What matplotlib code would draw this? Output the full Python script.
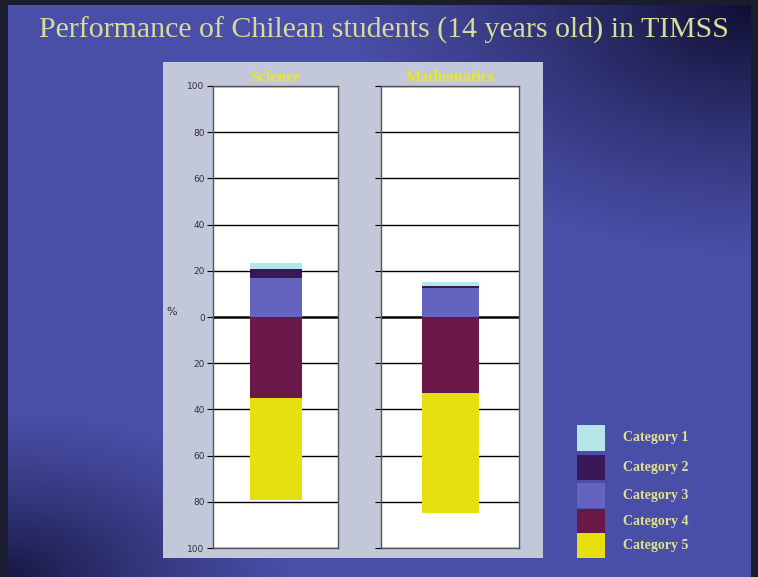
import matplotlib.pyplot as plt
import numpy as np

# Datos (porcentaje de alumnos por categoría)
materias = ['Science', 'Mathematics']
categorias = ['Category 1', 'Category 2', 'Category 3', 'Category 4', 'Category 5']
colores = ['#b4e6ea', '#3a1858', '#6464c0', '#6a1848', '#e6e010']

# por encima de cero: categoría 3, 2, 1 (apiladas)
cat3 = [17, 12.5]
cat2 = [4, 1]
cat1 = [2.5, 1.5]
# por debajo de cero: categoría 4, 5
cat4 = [35, 33]
cat5 = [44, 52]

ticks = [100, 80, 60, 40, 20, 0, -20, -40, -60, -80, -100]
etiquetas_ticks = [str(abs(t)) for t in ticks]

fig = plt.figure(figsize=(7.58, 5.77), dpi=100)
fig.patch.set_facecolor('#1c1c30')

# Fondo degradado
fondo = fig.add_axes([0.011, 0.0, 0.979, 0.991])
h, w = 200, 260
yy, xx = np.mgrid[0:1:h * 1j, 0:1:w * 1j]
base = np.array([0.29, 0.31, 0.66])
oscuro = np.array([0.06, 0.06, 0.20])
d_tr = np.sqrt(((1 - xx) / 0.55) ** 2 + (yy / 0.45) ** 2)
d_bl = np.sqrt((xx / 0.40) ** 2 + ((1 - yy) / 0.30) ** 2)
f = np.clip(1 - d_tr, 0, 1) ** 1.2 + 0.85 * np.clip(1 - d_bl, 0, 1) ** 1.3
f = np.clip(f, 0, 1)
img = base[None, None, :] * (1 - f[..., None]) + oscuro[None, None, :] * f[..., None]
fondo.imshow(img, aspect='auto', extent=[0, 1, 0, 1], origin='upper')
fondo.axis('off')

fig.text(0.507, 0.947, 'Performance of Chilean students (14 years old) in TIMSS',
         ha='center', va='center', fontsize=21.5, color='#d8dc94', family='Liberation Serif')

# Panel gris
panel = fig.add_axes([0.215, 0.033, 0.501, 0.86])
panel.set_facecolor('#c2c8da')
panel.set_xticks([])
panel.set_yticks([])
for s in panel.spines.values():
    s.set_visible(False)

posiciones = [[0.281, 0.050, 0.165, 0.801], [0.503, 0.050, 0.182, 0.801]]

for i, materia in enumerate(materias):
    ax = fig.add_axes(posiciones[i])
    ax.set_facecolor('white')
    ax.set_xlim(0, 1)
    ax.set_ylim(-100, 100)
    for t in ticks:
        ax.axhline(t, color='black', lw=1.8 if t == 0 else 1.0, zorder=1)
    x = 0.503
    ancho = 0.41
    ax.bar(x, cat3[i], ancho, bottom=0, color=colores[2], zorder=2)
    ax.bar(x, cat2[i], ancho, bottom=cat3[i], color=colores[1], zorder=2)
    ax.bar(x, cat1[i], ancho, bottom=cat3[i] + cat2[i], color=colores[0], zorder=2)
    ax.bar(x, -cat4[i], ancho, bottom=0, color=colores[3], zorder=2)
    ax.bar(x, -cat5[i], ancho, bottom=-cat4[i], color=colores[4], zorder=2)
    ax.set_xticks([])
    ax.set_yticks(ticks)
    if i == 0:
        ax.set_yticklabels(etiquetas_ticks, fontsize=6.5, color='#333333')
        ax.set_ylabel('%', rotation=0, fontsize=8, color='#333333', labelpad=4)
        ax.yaxis.set_label_coords(-0.33, 0.5)
    else:
        ax.set_yticklabels([])
    ax.tick_params(axis='y', length=4, width=0.8, pad=2)
    for s in ax.spines.values():
        s.set_color('#555555')
        s.set_linewidth(1.0)
    ax.set_title(materia, fontsize=11.5, color='#e8e828', fontweight='bold',
                 family='Liberation Serif', pad=3)

# Leyenda
ley_y = [0.241, 0.190, 0.141, 0.096, 0.055]
for k, cat in enumerate(categorias):
    fig.patches.append(plt.Rectangle((0.761, ley_y[k] - 0.022), 0.037, 0.044,
                                     transform=fig.transFigure, facecolor=colores[k],
                                     edgecolor='none', zorder=3))
    fig.text(0.822, ley_y[k], cat, fontsize=10, fontweight='bold', color='#e0e090',
             va='center', ha='left', family='Liberation Serif')

plt.savefig('out.png', dpi=100, facecolor=fig.get_facecolor())
